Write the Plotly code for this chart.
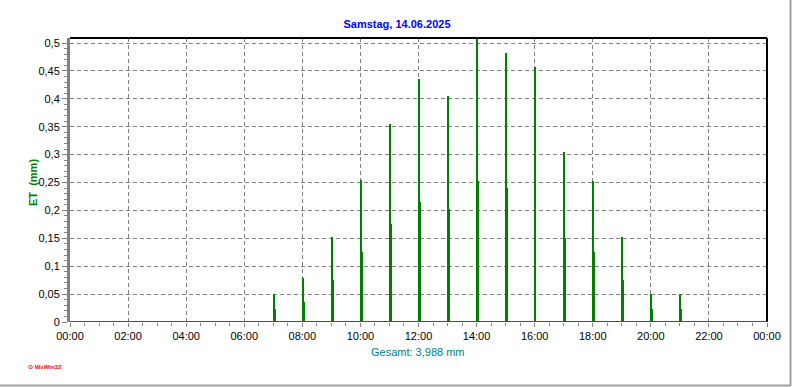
import plotly.graph_objects as go
from datetime import datetime, timedelta

# ---- data ----
title_text = "Samstag, 14.06.2025"
y_title = "ET  (mm)"
x_title = "Gesamt: 3,988 mm"
hours = [7, 8, 9, 10, 11, 12, 13, 14, 15, 16, 17, 18, 19, 20, 21]
peak_vals = [0.05, 0.078, 0.153, 0.255, 0.355, 0.435, 0.405, 0.52, 0.482, 0.457, 0.305, 0.253, 0.152, 0.05, 0.05]
half_vals = [0.023, 0.036, 0.075, 0.125, 0.176, 0.215, 0.203, 0.253, 0.24, 0.0, 0.15, 0.125, 0.075, 0.023, 0.023]

day = datetime(2025, 6, 14)
px_ms = 24 * 3600 * 1000 / 697.0  # ms per pixel

x_peak = [day + timedelta(hours=h, milliseconds=px_ms * 0.5) for h in hours]
x_half = [day + timedelta(hours=h, milliseconds=px_ms * 1.5) for h in hours]

green = "#008000"
fig = go.Figure()
fig.add_trace(go.Bar(x=x_half, y=half_vals, width=px_ms * 2, marker=dict(color=green, line=dict(width=0)),
                     hoverinfo="x+y"))
fig.add_trace(go.Bar(x=x_peak, y=peak_vals, width=px_ms * 1.05, marker=dict(color=green, line=dict(width=0)),
                     hoverinfo="x+y"))

font = "Liberation Sans, Arial, sans-serif"
grid_dash = "4px,3px"
fig.update_layout(
    width=792, height=387,
    margin=dict(l=70, r=25, t=38, b=65),
    paper_bgcolor="white", plot_bgcolor="white",
    separators=",.",
    showlegend=False,
    barmode="overlay",
    bargap=0,
    font=dict(family=font, size=11, color="black"),
    title=dict(text="<b>" + title_text + "</b>", x=397 / 792, xanchor="center",
               y=1 - 24 / 387, yanchor="middle", yref="container",
               font=dict(family=font, size=11, color="#0000FF")),
    xaxis=dict(
        type="date",
        range=[day, day + timedelta(days=1)],
        tickformat="%H:%M",
        dtick=7200000,
        tick0=day,
        ticks="outside", ticklen=4, tickcolor="#808080",
        showgrid=True, gridcolor="#808080", griddash=grid_dash, gridwidth=1,
        showline=False,
        zeroline=False,
        minor=dict(dtick=1800000, ticks="outside", ticklen=3, tickcolor="#808080", showgrid=False),
        tickfont=dict(family=font, size=11, color="black"),
        fixedrange=True,
    ),
    yaxis=dict(
        range=[0, 0.509],
        dtick=0.05,
        tick0=0,
        ticks="outside", ticklen=5, tickcolor="#808080",
        showgrid=True, gridcolor="#808080", griddash=grid_dash, gridwidth=1,
        showline=True, linecolor="#808080", linewidth=3,
        zeroline=False,
        minor=dict(dtick=0.01, ticks="outside", ticklen=3, tickcolor="#808080", showgrid=False),
        tickfont=dict(family=font, size=11, color="black"),
        fixedrange=True,
    ),
)

shapes = [
    # top and right frame
    dict(type="line", xref="paper", yref="paper", x0=0, x1=1, y0=1, y1=1, line=dict(color="black", width=2)),
    dict(type="line", xref="paper", yref="paper", x0=1, x1=1, y0=0, y1=1, line=dict(color="black", width=2)),
    # zero baseline
    dict(type="line", xref="paper", yref="y", x0=0, x1=1, y0=0, y1=0, line=dict(color=green, width=2)),
    # window border
    dict(type="line", xref="paper", yref="paper", x0=-70 / 697, x1=(791 - 70) / 697,
         y0=-(385.5 - 322) / 284, y1=-(385.5 - 322) / 284, line=dict(color="#a0a0a0", width=2)),
    dict(type="line", xref="paper", yref="paper", x0=(790.5 - 70) / 697, x1=(790.5 - 70) / 697,
         y0=-(386 - 322) / 284, y1=(322) / 284, line=dict(color="#a0a0a0", width=2)),
]
fig.update_layout(shapes=shapes)

fig.add_annotation(text="<b>" + y_title + "</b>", xref="paper", yref="paper",
                   x=(33 - 70) / 697, y=(322 - 183) / 284, xanchor="center", yanchor="middle",
                   textangle=-90, showarrow=False, font=dict(family=font, size=11, color=green))
fig.add_annotation(text=x_title, xref="paper", yref="paper",
                   x=(418 - 70) / 697, y=-(352 - 322) / 284, xanchor="center", yanchor="middle",
                   showarrow=False, font=dict(family=font, size=11, color="#008080"))
fig.add_annotation(text="<b>⊙ WsWin32</b>", xref="paper", yref="paper",
                   x=(26 - 70) / 697, y=-(367 - 322) / 284, xanchor="left", yanchor="middle",
                   showarrow=False, font=dict(family=font, size=6, color="#FF0000"))

fig.write_html("out.html")
